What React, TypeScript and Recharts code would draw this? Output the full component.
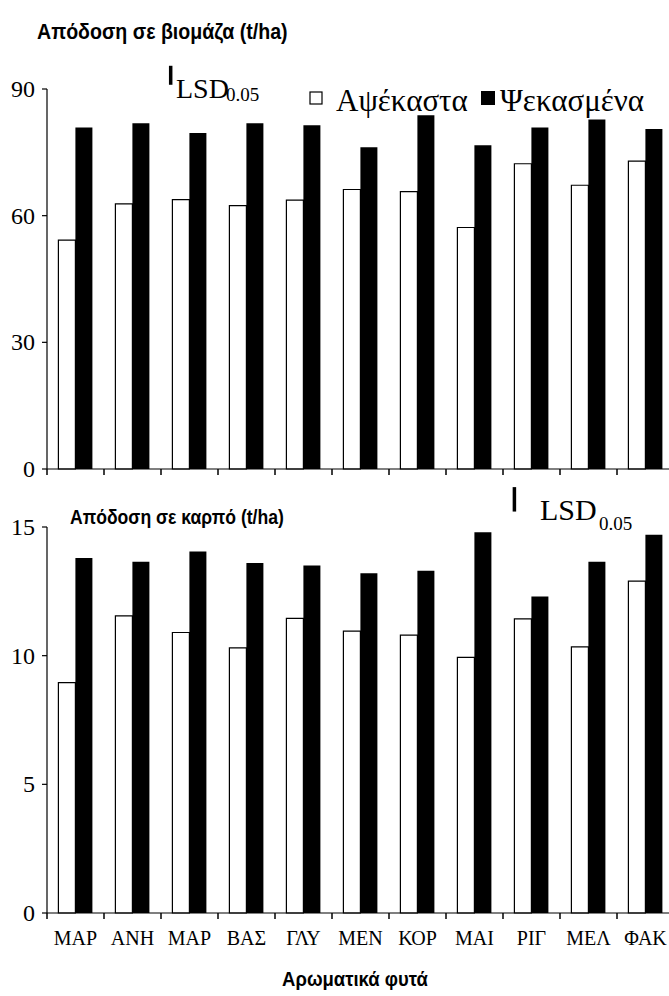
import { BarChart, Bar, XAxis, YAxis, ReferenceLine } from "recharts";

// aromatic plants (abbreviations)
const plants = ["ΜΑΡ", "ΑΝΗ", "ΜΑΡ", "ΒΑΣ", "ΓΛΥ", "ΜΕΝ", "ΚΟΡ", "ΜΑΙ", "ΡΙΓ", "ΜΕΛ", "ΦΑΚ"];

// biomass yield, t/ha
const biomassUnsprayed = [54.2, 62.8, 63.8, 62.4, 63.7, 66.2, 65.7, 57.2, 72.3, 67.2, 72.9];
const biomassSprayed = [80.9, 81.9, 79.6, 81.9, 81.4, 76.2, 83.8, 76.7, 80.9, 82.8, 80.5];

// fruit yield, t/ha
const fruitUnsprayed = [8.95, 11.55, 10.9, 10.3, 11.45, 10.95, 10.8, 9.93, 11.43, 10.34, 12.9];
const fruitSprayed = [13.8, 13.65, 14.05, 13.6, 13.5, 13.2, 13.3, 14.8, 12.3, 13.65, 14.7];

const biomassTicks = [0, 30, 60, 90];
const fruitTicks = [0, 5, 10, 15];

// plant slots 0..11 on the x axis; ticks fall between the plants
const slotTicks = plants.map((_, i) => i).concat(plants.length);

// LSD(0.05) bars: position on the plant axis, bottom of the bar, length
const lsdBiomass = { at: 2.17, from: 91, value: 4.5 };
const lsdFruit = { at: 8.2, from: 15.6, value: 0.95 };

const toRows = (a: number[], b: number[]) =>
  plants.map((name, i) => ({ slot: i + 0.5, name, unsprayed: a[i], sprayed: b[i] }));
const biomassData = toRows(biomassUnsprayed, biomassSprayed);
const fruitData = toRows(fruitUnsprayed, fruitSprayed);

const SERIF = "'Liberation Serif', 'Times New Roman', serif";
const SANS = "'Liberation Sans', Arial, sans-serif";

const CHART_W = 700;
const Y_AXIS_W = 47;
const RIGHT = 26;
const BAND = (CHART_W - Y_AXIS_W - RIGHT) / plants.length;

const serif = (size: number) => ({ fontFamily: SERIF, fontSize: size });
const bold = (size: number) => ({ fontFamily: SANS, fontSize: size, fontWeight: 700 });

// plant name written in the middle of the slot that starts at this tick
function PlantTick(props: any) {
  const { x, y, payload, showLabel } = props;
  const name = plants[payload.value];
  if (!showLabel || !name) return <g />;
  return (
    <text x={x + BAND / 2} y={y + 26} textAnchor="middle" fill="#000" style={serif(20)}>
      {name}
    </text>
  );
}

function ValueTick(props: any) {
  const { x, y, payload } = props;
  return (
    <text x={x} y={y} dy="0.34em" textAnchor="end" fill="#000" style={serif(24)}>
      {payload.value}
    </text>
  );
}

function YieldChart({
  data,
  height,
  top,
  xHeight,
  max,
  ticks,
  lsd,
  showLabels,
}: {
  data: { slot: number; name: string; unsprayed: number; sprayed: number }[];
  height: number;
  top: number;
  xHeight: number;
  max: number;
  ticks: number[];
  lsd: { at: number; from: number; value: number };
  showLabels: boolean;
}) {
  return (
    <BarChart
      width={CHART_W}
      height={height}
      data={data}
      margin={{ top, right: RIGHT, left: 0, bottom: 0 }}
      barCategoryGap="20%"
      barGap={0}
      style={{ fontFamily: SERIF }}
    >
      <XAxis
        type="number"
        dataKey="slot"
        domain={[0, plants.length]}
        allowDataOverflow
        ticks={slotTicks}
        interval={0}
        height={xHeight}
        axisLine={{ stroke: "#000", strokeWidth: 1.2 }}
        tickLine={{ stroke: "#000", strokeWidth: 1.5 }}
        tickSize={6}
        tickMargin={0}
        tick={(p: any) => <PlantTick {...p} showLabel={showLabels} />}
      />
      <YAxis
        width={Y_AXIS_W}
        domain={[0, max]}
        ticks={ticks}
        interval={0}
        axisLine={{ stroke: "#000", strokeWidth: 1.2 }}
        tickLine={{ stroke: "#000", strokeWidth: 1.2 }}
        tickSize={5}
        tickMargin={7}
        tick={(p: any) => <ValueTick {...p} />}
      />
      <Bar dataKey="unsprayed" fill="#fff" stroke="#000" strokeWidth={1.2} isAnimationActive={false} />
      <Bar dataKey="sprayed" fill="#000" isAnimationActive={false} />
      <ReferenceLine
        segment={[
          { x: lsd.at, y: lsd.from },
          { x: lsd.at, y: lsd.from + lsd.value },
        ]}
        stroke="#000"
        strokeWidth={3.5}
        ifOverflow="visible"
      />
    </BarChart>
  );
}

export default function App() {
  return (
    <div
      style={{
        position: "absolute",
        left: 0,
        top: 0,
        width: 669,
        height: 996,
        overflow: "hidden",
        background: "#fff",
      }}
    >
      <div style={{ position: "absolute", left: 0, top: 0 }}>
        <YieldChart
          data={biomassData}
          height={500}
          top={89}
          xHeight={31}
          max={90}
          ticks={biomassTicks}
          lsd={lsdBiomass}
          showLabels={false}
        />
      </div>
      <div style={{ position: "absolute", left: 0, top: 470 }}>
        <YieldChart
          data={fruitData}
          height={526}
          top={57}
          xHeight={83}
          max={15}
          ticks={fruitTicks}
          lsd={lsdFruit}
          showLabels={true}
        />
      </div>
      <svg
        width={669}
        height={996}
        style={{ position: "absolute", left: 0, top: 0, pointerEvents: "none" }}
      >
        <g transform="translate(37 39) scale(1 1.1)">
          <text x={0} y={0} fill="#000" style={bold(19.6)}>
            Απόδοση σε βιομάζα (t/ha)
          </text>
        </g>
        <text x={176} y={98} fill="#000" style={serif(28)}>
          LSD
        </text>
        <text x={226} y={101} fill="#000" style={serif(19)}>
          0.05
        </text>
        <rect x={310} y={92} width={12} height={12} fill="#fff" stroke="#000" strokeWidth={1.2} />
        <text x={336} y={111} fill="#000" style={serif(31)}>
          Αψέκαστα
        </text>
        <rect x={481} y={91} width={14} height={14} fill="#000" />
        <text x={500} y={111} fill="#000" style={serif(31)}>
          Ψεκασμένα
        </text>

        <g transform="translate(70 524) scale(1 1.1)">
          <text x={0} y={0} fill="#000" style={bold(17.6)}>
            Απόδοση σε καρπό (t/ha)
          </text>
        </g>
        <text x={540} y={520} fill="#000" style={serif(30)}>
          LSD
        </text>
        <text x={599} y={530} fill="#000" style={serif(19)}>
          0.05
        </text>

        <g transform="translate(355 986) scale(1 1.1)">
          <text x={0} y={0} textAnchor="middle" fill="#000" style={bold(18.5)}>
            Αρωματικά φυτά
          </text>
        </g>
      </svg>
    </div>
  );
}
